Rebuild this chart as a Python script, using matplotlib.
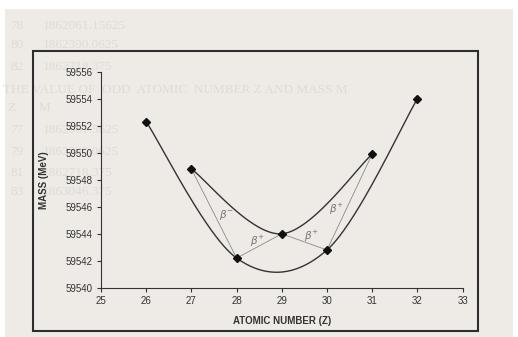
import numpy as np
import matplotlib
matplotlib.use('Agg')
import matplotlib.pyplot as plt
from matplotlib.patches import Rectangle

# data
even_z = [26, 28, 30, 32]
even_mass = [59552.3, 59542.2, 59542.8, 59554.0]
odd_z = [27, 29, 31]
odd_mass = [59548.8, 59544.0, 59549.9]
chain_z = [27, 28, 29, 30, 31]
chain_mass = [59548.8, 59542.2, 59544.0, 59542.8, 59549.9]
decay_labels = [r'$\beta^{-}$', r'$\beta^{+}$', r'$\beta^{+}$', r'$\beta^{+}$']
decay_pos = [(27.78, 59545.4), (28.45, 59543.4), (29.66, 59543.8), (30.21, 59545.8)]

x_ticks = [25, 26, 27, 28, 29, 30, 31, 32, 33]
y_ticks = [59540, 59542, 59544, 59546, 59548, 59550, 59552, 59554, 59556]

# faint text showing through from the page
ghost_lines = [
    (0.02, 0.922, '78'), (0.083, 0.922, '1862061.15625'),
    (0.02, 0.866, '80'), (0.083, 0.866, '1862390.0625'),
    (0.02, 0.800, '82'), (0.083, 0.800, '1862718.375'),
    (0.005, 0.733, 'THE VALUE OF  ODD  ATOMIC  NUMBER Z AND MASS M'),
    (0.015, 0.680, 'Z'), (0.075, 0.680, 'M'),
    (0.02, 0.614, '77'), (0.083, 0.614, '1862061.5625'),
    (0.02, 0.549, '79'), (0.083, 0.549, '1862390.0625'),
    (0.02, 0.487, '81'), (0.083, 0.487, '1862718.375'),
    (0.02, 0.430, '83'), (0.083, 0.430, '1863046.375'),
]


# Excel-like smoothed line: cubic bezier through the points
def smooth_curve(xs, ys, n=60):
    p = np.column_stack([xs, ys]).astype(float)
    out = []
    for i in range(len(p) - 1):
        p_prev = p[i - 1] if i > 0 else p[i]
        p_next = p[i + 2] if i + 2 < len(p) else p[i + 1]
        c1 = p[i] + (p[i + 1] - p_prev) / 6.0
        c2 = p[i + 1] - (p_next - p[i]) / 6.0
        t = np.linspace(0, 1, n)[:, None]
        seg = ((1 - t) ** 3) * p[i] + 3 * ((1 - t) ** 2) * t * c1 \
            + 3 * (1 - t) * t ** 2 * c2 + t ** 3 * p[i + 1]
        out.append(seg)
    out = np.vstack(out)
    return out[:, 0], out[:, 1]


plt.rcParams['font.family'] = ['Liberation Sans', 'DejaVu Sans']

fig = plt.figure(figsize=(5.18, 3.37), dpi=100)
fig.patch.set_facecolor('white')

# paper of the scan
fig.patches.append(Rectangle((0.01, 0.0), 0.98, 0.973, transform=fig.transFigure,
                             facecolor='#eeebe7', edgecolor='none', zorder=-3))

for gx, gy, txt in ghost_lines:
    fig.text(gx, gy, txt, fontsize=9.5, color='#dfdbd6', family='Liberation Serif',
             va='center', zorder=-2)

# chart area border
fig.patches.append(Rectangle((0.0637, 0.0178), 0.859, 0.831, transform=fig.transFigure,
                             facecolor='none', edgecolor='#2e2e2e', linewidth=1.5, zorder=-1))

ax = fig.add_axes([0.195, 0.146, 0.698, 0.641])
ax.set_zorder(2)
ax.set_facecolor('none')

sx, sy = smooth_curve(even_z, even_mass)
ax.plot(sx, sy, color='#333333', linewidth=1.0)
sx, sy = smooth_curve(odd_z, odd_mass)
ax.plot(sx, sy, color='#333333', linewidth=1.0)

ax.plot(chain_z, chain_mass, color='#8a8a8a', linewidth=0.6)

ax.plot(even_z, even_mass, linestyle='none', marker='D', markersize=3.6, color='#111111')
ax.plot(odd_z, odd_mass, linestyle='none', marker='D', markersize=3.6, color='#111111')

for lab, (lx, ly) in zip(decay_labels, decay_pos):
    ax.text(lx, ly, lab, fontsize=7.5, color='#777777', ha='center', va='center')

ax.set_xlim(25, 33)
ax.set_ylim(59540, 59556)
ax.set_xticks(x_ticks)
ax.set_yticks(y_ticks)
ax.yaxis.set_major_formatter(matplotlib.ticker.FormatStrFormatter('%d'))

for side in ['top', 'right']:
    ax.spines[side].set_visible(False)
for side in ['left', 'bottom']:
    ax.spines[side].set_color('#333333')
    ax.spines[side].set_linewidth(0.8)

ax.tick_params(direction='out', length=3, width=0.8, color='#333333',
               labelsize=7, labelcolor='#333333', pad=3)

ax.set_xlabel('ATOMIC NUMBER (Z)', fontsize=7, fontweight='bold', color='#333333', labelpad=7)
ax.set_ylabel('MASS (MeV)', fontsize=7, fontweight='bold', color='#333333', labelpad=12)

fig.savefig('out.png', dpi=100)
